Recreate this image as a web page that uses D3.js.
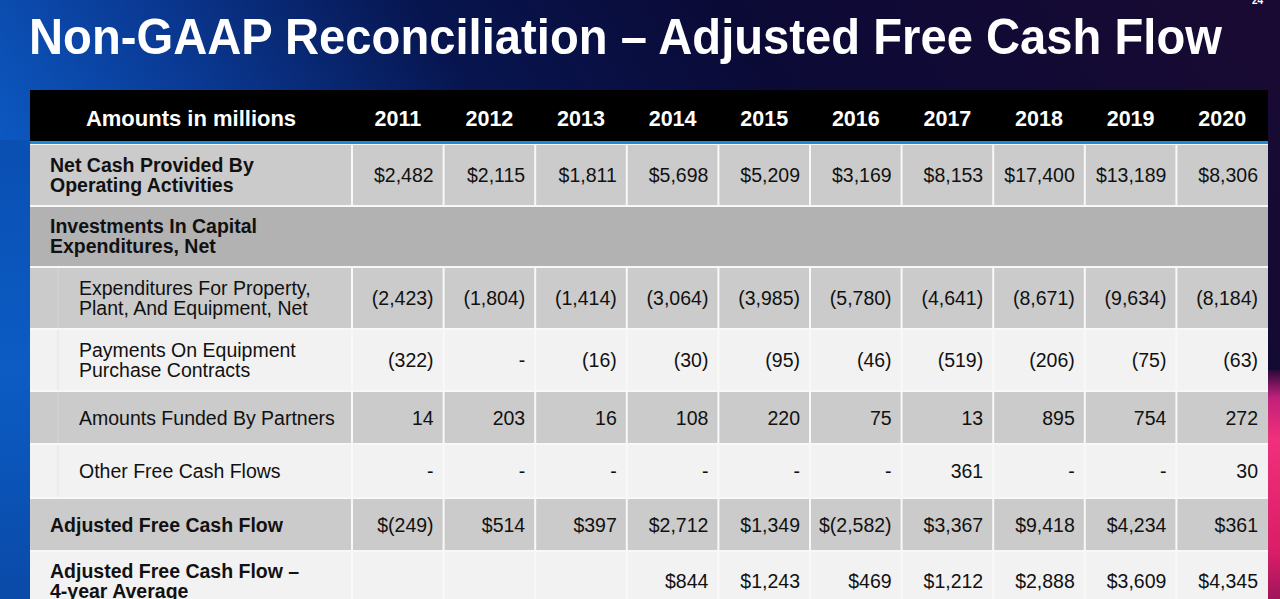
<!DOCTYPE html>
<html>
<head>
<meta charset="utf-8">
<script src="https://cdn.jsdelivr.net/npm/d3@7"></script>
<style>
html,body{margin:0;padding:0;background:#0a1a5a;overflow:hidden;}
svg{display:block;}
</style>
</head>
<body>
<svg id="chart" width="1280" height="599"></svg>
<script>
// ---------- data ----------
const title = "Non-GAAP Reconciliation \u2013 Adjusted Free Cash Flow";
const headerLabel = "Amounts in millions";
const years = ["2011","2012","2013","2014","2015","2016","2017","2018","2019","2020"];
const netCash      = [2482, 2115, 1811, 5698, 5209, 3169, 8153, 17400, 13189, 8306];
const ppeSpend     = [-2423, -1804, -1414, -3064, -3985, -5780, -4641, -8671, -9634, -8184];
const equipPay     = [-322, 0, -16, -30, -95, -46, -519, -206, -75, -63];
const partnerFunds = [14, 203, 16, 108, 220, 75, 13, 895, 754, 272];
const otherFCF     = [0, 0, 0, 0, 0, 0, 361, 0, 0, 30];
const adjFCF       = [-249, 514, 397, 2712, 1349, -2582, 3367, 9418, 4234, 361];
const adjFCFAvg4   = [null, null, null, 844, 1243, 469, 1212, 2888, 3609, 4345];
const rowLabels = [
  ["Net Cash Provided By", "Operating Activities"],
  ["Investments In Capital", "Expenditures, Net"],
  ["Expenditures For Property,", "Plant, And Equipment, Net"],
  ["Payments On Equipment", "Purchase Contracts"],
  ["Amounts Funded By Partners"],
  ["Other Free Cash Flows"],
  ["Adjusted Free Cash Flow"],
  ["Adjusted Free Cash Flow \u2013", "4-year Average"]
];
const rowValues = [netCash, null, ppeSpend, equipPay, partnerFunds, otherFCF, adjFCF, adjFCFAvg4];
const rowDollar = [true, false, false, false, false, false, true, true];

// ---------- layout ----------
const tableL = 30, tableR = 1268, firstColR = 352;
const headerTop = 90, headerBot = 142;
const rowTops = [145, 207, 268, 330, 392, 445, 499, 552];
const rowBots = [205, 266, 328, 390, 443, 497, 550, 610];
const rowKinds = ["mid", "dark", "mid", "light", "mid", "light", "mid", "light"];
const kindFill = {mid: "#cbcbcb", dark: "#b2b2b2", light: "#f2f2f2"};
const rowBold = [true, true, false, false, false, false, true, true];
const rowIndent = [false, false, true, true, true, true, false, false];

const svg = d3.select("#chart");
const defs = svg.append("defs");

// background gradient
const bg = defs.append("linearGradient").attr("id", "bg").attr("x1", "0").attr("y1", "0.3").attr("x2", "1").attr("y2", "0");
[["0%", "#0c5cc6"], ["18%", "#0a3a95"], ["38%", "#07154f"], ["60%", "#0b0a36"], ["100%", "#1a0a33"]]
  .forEach(([o, c]) => bg.append("stop").attr("offset", o).attr("stop-color", c));
const pink = defs.append("linearGradient").attr("id", "pink").attr("x1", "0").attr("y1", "0").attr("x2", "0").attr("y2", "1");
[["0%", "#2a0a3a"], ["12%", "#c0207a"], ["30%", "#f0307a"], ["80%", "#d81e66"], ["100%", "#a0155a"]]
  .forEach(([o, c]) => pink.append("stop").attr("offset", o).attr("stop-color", c));
const leftStrip = defs.append("linearGradient").attr("id", "lstrip").attr("x1", "0").attr("y1", "0").attr("x2", "0").attr("y2", "1");
[["0%", "#0a4fb2"], ["50%", "#0b5cc4"], ["100%", "#0a4aa8"]]
  .forEach(([o, c]) => leftStrip.append("stop").attr("offset", o).attr("stop-color", c));

svg.append("rect").attr("width", 1280).attr("height", 599).attr("fill", "url(#bg)");
svg.append("rect").attr("x", 0).attr("y", 140).attr("width", tableL).attr("height", 459).attr("fill", "url(#lstrip)");
svg.append("rect").attr("x", tableR).attr("y", 370).attr("width", 1280 - tableR).attr("height", 229).attr("fill", "url(#pink)");

// title
svg.append("text").attr("x", 29).attr("y", 54)
  .attr("font-family", "Liberation Sans, Arial, sans-serif").attr("font-weight", "bold")
  .attr("font-size", 50).attr("fill", "#ffffff")
  .attr("textLength", 1193).attr("lengthAdjust", "spacingAndGlyphs")
  .text(title);
svg.append("text").attr("x", 1252).attr("y", 4).attr("font-family", "Liberation Sans, Arial, sans-serif")
  .attr("font-weight", "bold").attr("font-size", 10).attr("fill", "#ffffff").text("24");

// scales
const x = d3.scaleBand().domain(years).range([firstColR, tableR]).paddingInner(0).paddingOuter(0);
const y = d3.scaleOrdinal().domain(d3.range(rowTops.length)).range(rowTops);

// header
svg.append("rect").attr("x", tableL).attr("y", headerTop).attr("width", tableR - tableL).attr("height", headerBot - headerTop).attr("fill", "#000");
svg.append("rect").attr("x", tableL).attr("y", 141).attr("width", tableR - tableL).attr("height", 3).attr("fill", "#1d8ad8");
const hdrFont = "Liberation Sans, Arial, sans-serif";
svg.append("text").attr("x", (tableL + firstColR) / 2).attr("y", 126).attr("text-anchor", "middle")
  .attr("font-family", hdrFont).attr("font-weight", "bold").attr("font-size", 22).attr("fill", "#fff").text(headerLabel);
svg.selectAll("text.year").data(years).join("text").attr("class", "year")
  .attr("x", d => x(d) + x.bandwidth() / 2).attr("y", 126).attr("text-anchor", "middle")
  .attr("font-family", hdrFont).attr("font-weight", "bold").attr("font-size", 21.5).attr("fill", "#fff").text(d => d);

// table body base (white grid)
svg.append("rect").attr("x", tableL).attr("y", 144).attr("width", tableR - tableL).attr("height", 599 - 144).attr("fill", "#f8f8f8");

const rows = svg.selectAll("g.row").data(rowLabels.map((l, i) => i)).join("g").attr("class", "row");
rows.append("rect").attr("x", tableL).attr("y", i => y(i)).attr("width", tableR - tableL)
  .attr("height", i => rowBots[i] - rowTops[i]).attr("fill", i => kindFill[rowKinds[i]]);

// vertical white separators (not in the section header row)
const bounds = [firstColR].concat(years.slice(1).map(d => x(d)));
rows.filter(i => rowValues[i] !== null).each(function (i) {
  d3.select(this).selectAll("rect.sep").data(bounds).join("rect").attr("class", "sep")
    .attr("x", b => b - 1).attr("y", rowTops[i]).attr("width", 2).attr("height", rowBots[i] - rowTops[i]).attr("fill", "#f8f8f8");
});
// indent guide lines
rows.filter(i => rowIndent[i]).append("rect").attr("x", 57.5).attr("y", i => rowTops[i]).attr("width", 1)
  .attr("height", i => rowBots[i] - rowTops[i]).attr("fill", i => rowKinds[i] === "light" ? "#e4e4e4" : "#d6d6d6");

// labels
const bodyFont = "Liberation Sans, Arial, sans-serif";
rows.each(function (i) {
  const mid = (rowTops[i] + rowBots[i]) / 2;
  const lines = rowLabels[i];
  const t = d3.select(this).append("text")
    .attr("font-family", bodyFont).attr("font-size", 19.5).attr("fill", "#111")
    .attr("font-weight", rowBold[i] ? "bold" : "normal");
  const lx = rowIndent[i] ? 79 : 50;
  lines.forEach((ln, k) => {
    const base = lines.length === 1 ? mid + 7 : mid - 3.5 + k * 20;
    t.append("tspan").attr("x", lx).attr("y", base).text(ln);
  });
});

// values
const fmtNum = d3.format(",");
function fmt(v, dollar) {
  if (v === null) return "";
  if (v === 0) return "-";
  const s = fmtNum(Math.abs(v));
  const core = v < 0 ? "(" + s + ")" : s;
  return (dollar ? "$" : "") + core;
}
rows.filter(i => rowValues[i] !== null).each(function (i) {
  const mid = (rowTops[i] + rowBots[i]) / 2;
  d3.select(this).selectAll("text.val").data(rowValues[i].map((v, k) => ({v, k}))).join("text").attr("class", "val")
    .attr("x", d => x(years[d.k]) + x.bandwidth() - 10).attr("y", mid + 7).attr("text-anchor", "end")
    .attr("font-family", bodyFont).attr("font-size", 19.5).attr("fill", "#111")
    .text(d => fmt(d.v, rowDollar[i]));
});
</script>
</body>
</html>
